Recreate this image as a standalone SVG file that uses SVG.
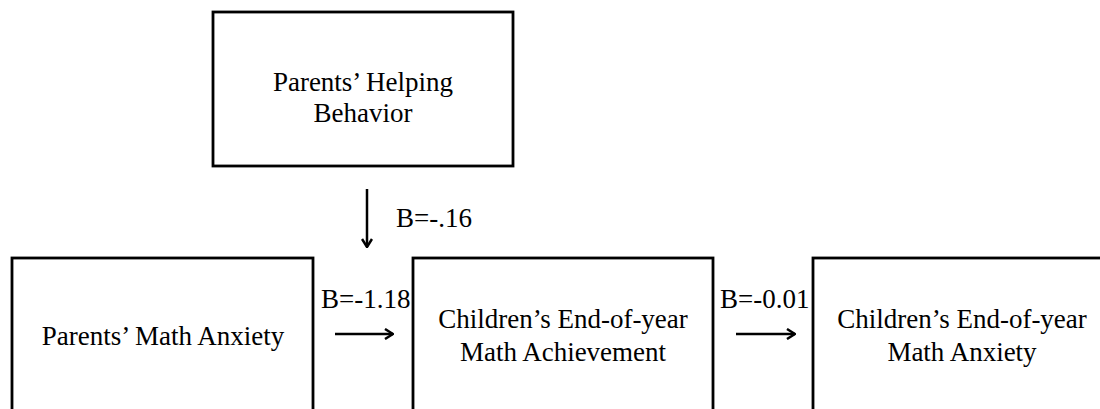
<svg xmlns="http://www.w3.org/2000/svg" width="1100" height="409" viewBox="0 0 1100 409">
<style>
.box{fill:#fff;stroke:#000;stroke-width:2.8}
.t{font-family:"Liberation Serif","Times New Roman",serif;font-size:27px;fill:#000}
.c{text-anchor:middle}
.ln{stroke:#000;stroke-width:2.5}
</style>
<defs>
<marker id="ah" viewBox="0 0 12 12" refX="11" refY="6" markerWidth="12" markerHeight="12" markerUnits="userSpaceOnUse" orient="auto">
<path d="M3,1 L11,6 L3,11" fill="none" stroke="#000" stroke-width="2.5"/>
</marker>
</defs>
<rect width="1100" height="409" fill="#fff"/>
<g id="helping">
<rect class="box" x="213" y="12" width="300" height="154"/>
<text class="t c" x="363" y="91">Parents’ Helping</text>
<text class="t c" x="363" y="122">Behavior</text>
</g>
<g id="parentAnxiety">
<rect class="box" x="12" y="258" width="301" height="170"/>
<text class="t c" x="163" y="345">Parents’ Math Anxiety</text>
</g>
<g id="achievement">
<rect class="box" x="413" y="258" width="300" height="170"/>
<text class="t c" x="563" y="328">Children’s End-of-year</text>
<text class="t c" x="563" y="361">Math Achievement</text>
</g>
<g id="childAnxiety">
<rect class="box" x="813" y="258" width="300" height="170"/>
<text class="t c" x="962" y="328">Children’s End-of-year</text>
<text class="t c" x="962" y="361">Math Anxiety</text>
</g>
<g id="connectors">
<line class="ln" x1="367" y1="189" x2="367" y2="247" marker-end="url(#ah)"/>
<line class="ln" x1="335" y1="334" x2="393" y2="334" marker-end="url(#ah)"/>
<line class="ln" x1="736" y1="334" x2="795" y2="334" marker-end="url(#ah)"/>
<text class="t" x="396" y="227">B=-.16</text>
<text class="t" x="321" y="308">B=-1.18</text>
<text class="t" x="720" y="308">B=-0.01</text>
</g>
</svg>
